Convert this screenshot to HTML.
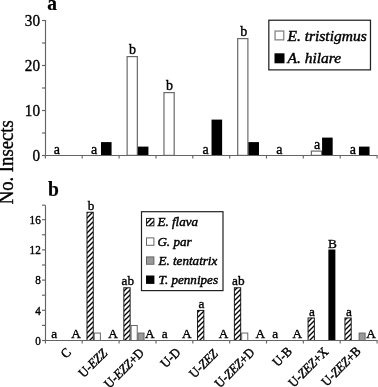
<!DOCTYPE html><html><head><meta charset="utf-8"><style>html,body{margin:0;padding:0;background:#fff;}svg{display:block;will-change:transform;}text{font-family:"Liberation Serif",serif;fill:#000;stroke:#000;stroke-width:0.35px;}text.b{stroke-width:0.2px}</style></head><body>
<svg width="378" height="387" viewBox="0 0 378 387">
<defs><pattern id="h" patternUnits="userSpaceOnUse" width="5" height="5"><rect width="5" height="5" fill="#fff"/><path d="M-1,6 L6,-1 M-1,1 L1,-1 M4,6 L6,4" stroke="#000" stroke-width="1.35"/></pattern></defs>
<text transform="translate(13.40,162.30) rotate(-90) scale(1,1.09)" text-anchor="middle" font-size="18.7">No. Insects</text>
<text transform="translate(47.20,10.00) scale(1,1.03)" font-size="19.5" class="b" font-weight="bold">a</text>
<text transform="translate(48.00,196.30) scale(1,1.03)" font-size="19.5" class="b" font-weight="bold">b</text>
<text transform="translate(56.85,153.90)" text-anchor="middle" font-size="14">a</text>
<rect x="100.98" y="142.10" width="10.60" height="13.90" fill="#000"/>
<rect x="101.98" y="143.10" width="8.60" height="11.90" fill="#000"/>
<text transform="translate(94.00,153.90)" text-anchor="middle" font-size="14">a</text>
<rect x="126.53" y="56.00" width="11.40" height="100.00" fill="#6a6a6a"/>
<rect x="127.73" y="57.20" width="9.00" height="97.60" fill="#fff"/>
<rect x="137.83" y="146.60" width="10.60" height="9.40" fill="#000"/>
<rect x="138.83" y="147.60" width="8.60" height="7.40" fill="#000"/>
<text transform="translate(132.55,53.70)" text-anchor="middle" font-size="14">b</text>
<rect x="163.38" y="92.00" width="11.40" height="64.00" fill="#6a6a6a"/>
<rect x="164.57" y="93.20" width="9.00" height="61.60" fill="#fff"/>
<text transform="translate(169.55,89.70)" text-anchor="middle" font-size="14">b</text>
<rect x="211.53" y="119.60" width="10.60" height="36.40" fill="#000"/>
<rect x="212.53" y="120.60" width="8.60" height="34.40" fill="#000"/>
<text transform="translate(205.55,153.90)" text-anchor="middle" font-size="14">a</text>
<rect x="237.08" y="38.00" width="11.40" height="118.00" fill="#6a6a6a"/>
<rect x="238.28" y="39.20" width="9.00" height="115.60" fill="#fff"/>
<rect x="248.38" y="142.10" width="10.60" height="13.90" fill="#000"/>
<rect x="249.38" y="143.10" width="8.60" height="11.90" fill="#000"/>
<text transform="translate(243.75,35.70)" text-anchor="middle" font-size="14">b</text>
<text transform="translate(279.25,153.90)" text-anchor="middle" font-size="14">a</text>
<rect x="310.77" y="150.50" width="11.40" height="5.50" fill="#6a6a6a"/>
<rect x="311.97" y="151.70" width="9.00" height="3.10" fill="#fff"/>
<rect x="322.07" y="137.60" width="10.60" height="18.40" fill="#000"/>
<rect x="323.07" y="138.60" width="8.60" height="16.40" fill="#000"/>
<text transform="translate(317.00,149.40)" text-anchor="middle" font-size="14">a</text>
<rect x="358.93" y="146.60" width="10.60" height="9.40" fill="#000"/>
<rect x="359.93" y="147.60" width="8.60" height="7.40" fill="#000"/>
<text transform="translate(352.75,153.90)" text-anchor="middle" font-size="14">a</text>
<g stroke="#646464" stroke-width="1.15" fill="none">
<path d="M45.5,20 V155.5 M45,155.5 H377.5"/>
<path d="M42,155.5 H45.5"/>
<path d="M42,133.0 H45.5"/>
<path d="M42,110.5 H45.5"/>
<path d="M42,88.0 H45.5"/>
<path d="M42,65.5 H45.5"/>
<path d="M42,43.0 H45.5"/>
<path d="M42,20.5 H45.5"/>
<path d="M45.4,155.5 V158.5"/>
<path d="M82.2,155.5 V158.5"/>
<path d="M119.1,155.5 V158.5"/>
<path d="M156.0,155.5 V158.5"/>
<path d="M192.8,155.5 V158.5"/>
<path d="M229.7,155.5 V158.5"/>
<path d="M266.5,155.5 V158.5"/>
<path d="M303.3,155.5 V158.5"/>
<path d="M340.2,155.5 V158.5"/>
<path d="M377.1,155.5 V158.5"/>
</g>
<text transform="translate(40.00,160.80) scale(1,1.07)" text-anchor="end" font-size="15.2">0</text>
<text transform="translate(40.00,115.80) scale(1,1.07)" text-anchor="end" font-size="15.2">10</text>
<text transform="translate(40.00,70.80) scale(1,1.07)" text-anchor="end" font-size="15.2">20</text>
<text transform="translate(40.00,25.80) scale(1,1.07)" text-anchor="end" font-size="15.2">30</text>
<rect x="268.20" y="19.60" width="102.90" height="50.90" fill="#222"/>
<rect x="269.45" y="20.85" width="100.40" height="48.40" fill="#fff"/>
<rect x="274.40" y="30.40" width="10.00" height="10.10" fill="#858585"/>
<rect x="275.70" y="31.70" width="7.40" height="7.50" fill="#fff"/>
<rect x="274.50" y="53.30" width="10.00" height="10.00" fill="#000"/>
<rect x="275.50" y="54.30" width="8.00" height="8.00" fill="#000"/>
<text transform="translate(287.50,40.60) scale(1,0.95)" font-size="15.5" font-style="italic" style="stroke-width:0.45px">E. tristigmus</text>
<text transform="translate(287.50,63.20) scale(1,0.95)" font-size="15.5" font-style="italic" style="stroke-width:0.45px">A. hilare</text>
<text transform="translate(54.12,338.30)" text-anchor="middle" font-size="13.3">a</text>
<text transform="translate(76.12,338.30)" text-anchor="middle" font-size="13.3">A</text>
<rect x="86.48" y="211.75" width="7.30" height="129.25" fill="#1a1a1a"/>
<rect x="87.48" y="212.75" width="5.30" height="127.25" fill="url(#h)"/>
<rect x="93.78" y="332.55" width="7.10" height="8.45" fill="#666"/>
<rect x="94.78" y="333.55" width="5.10" height="6.45" fill="#fff"/>
<text transform="translate(90.98,209.95)" text-anchor="middle" font-size="13.3">b</text>
<text transform="translate(112.98,338.30)" text-anchor="middle" font-size="13.3">A</text>
<rect x="123.33" y="287.25" width="7.30" height="53.75" fill="#1a1a1a"/>
<rect x="124.33" y="288.25" width="5.30" height="51.75" fill="url(#h)"/>
<rect x="130.62" y="325.00" width="7.10" height="16.00" fill="#666"/>
<rect x="131.62" y="326.00" width="5.10" height="14.00" fill="#fff"/>
<rect x="137.53" y="332.55" width="7.00" height="8.45" fill="#666"/>
<rect x="138.53" y="333.55" width="5.00" height="6.45" fill="#999"/>
<text transform="translate(127.83,285.45)" text-anchor="middle" font-size="13.3">ab</text>
<text transform="translate(149.83,338.30)" text-anchor="middle" font-size="13.3">A</text>
<text transform="translate(164.68,338.30)" text-anchor="middle" font-size="13.3">a</text>
<text transform="translate(186.68,338.30)" text-anchor="middle" font-size="13.3">A</text>
<rect x="197.03" y="309.90" width="7.30" height="31.10" fill="#1a1a1a"/>
<rect x="198.03" y="310.90" width="5.30" height="29.10" fill="url(#h)"/>
<text transform="translate(201.53,308.10)" text-anchor="middle" font-size="13.3">a</text>
<text transform="translate(223.53,338.30)" text-anchor="middle" font-size="13.3">A</text>
<rect x="233.88" y="287.25" width="7.30" height="53.75" fill="#1a1a1a"/>
<rect x="234.88" y="288.25" width="5.30" height="51.75" fill="url(#h)"/>
<rect x="241.18" y="332.55" width="7.10" height="8.45" fill="#666"/>
<rect x="242.18" y="333.55" width="5.10" height="6.45" fill="#fff"/>
<text transform="translate(238.38,285.45)" text-anchor="middle" font-size="13.3">ab</text>
<text transform="translate(260.38,338.30)" text-anchor="middle" font-size="13.3">A</text>
<text transform="translate(275.23,338.30)" text-anchor="middle" font-size="13.3">a</text>
<text transform="translate(297.23,338.30)" text-anchor="middle" font-size="13.3">A</text>
<rect x="307.57" y="317.45" width="7.30" height="23.55" fill="#1a1a1a"/>
<rect x="308.57" y="318.45" width="5.30" height="21.55" fill="url(#h)"/>
<rect x="328.38" y="249.50" width="7.00" height="91.50" fill="#000"/>
<rect x="329.38" y="250.50" width="5.00" height="89.50" fill="#000"/>
<text transform="translate(312.07,315.65)" text-anchor="middle" font-size="13.3">a</text>
<text transform="translate(332.38,247.70)" text-anchor="middle" font-size="13.3">B</text>
<rect x="344.43" y="317.45" width="7.30" height="23.55" fill="#1a1a1a"/>
<rect x="345.43" y="318.45" width="5.30" height="21.55" fill="url(#h)"/>
<rect x="358.62" y="332.55" width="7.00" height="8.45" fill="#666"/>
<rect x="359.62" y="333.55" width="5.00" height="6.45" fill="#999"/>
<text transform="translate(348.93,315.65)" text-anchor="middle" font-size="13.3">a</text>
<text transform="translate(370.93,338.30)" text-anchor="middle" font-size="13.3">A</text>
<g stroke="#646464" stroke-width="1.15" fill="none">
<path d="M45.5,205.2 V340.5 M45,340.5 H377.5"/>
<path d="M42,340.5 H45.5"/>
<path d="M42,325.4 H45.5"/>
<path d="M42,310.3 H45.5"/>
<path d="M42,295.2 H45.5"/>
<path d="M42,280.1 H45.5"/>
<path d="M42,265.0 H45.5"/>
<path d="M42,249.9 H45.5"/>
<path d="M42,234.8 H45.5"/>
<path d="M42,219.7 H45.5"/>
<path d="M42,205.2 H45.5"/>
<path d="M45.4,340.5 V343.5"/>
<path d="M82.2,340.5 V343.5"/>
<path d="M119.1,340.5 V343.5"/>
<path d="M156.0,340.5 V343.5"/>
<path d="M192.8,340.5 V343.5"/>
<path d="M229.7,340.5 V343.5"/>
<path d="M266.5,340.5 V343.5"/>
<path d="M303.3,340.5 V343.5"/>
<path d="M340.2,340.5 V343.5"/>
<path d="M377.1,340.5 V343.5"/>
</g>
<text transform="translate(40.80,344.70) scale(1,1.1)" text-anchor="end" font-size="11.2">0</text>
<text transform="translate(40.80,314.50) scale(1,1.1)" text-anchor="end" font-size="11.2">4</text>
<text transform="translate(40.80,284.30) scale(1,1.1)" text-anchor="end" font-size="11.2">8</text>
<text transform="translate(40.80,254.10) scale(1,1.1)" text-anchor="end" font-size="11.2">12</text>
<text transform="translate(40.80,223.90) scale(1,1.1)" text-anchor="end" font-size="11.2">16</text>
<rect x="140.90" y="211.10" width="82.70" height="80.10" fill="#222"/>
<rect x="142.10" y="212.30" width="80.30" height="77.70" fill="#fff"/>
<rect x="146.00" y="217.90" width="8.40" height="8.40" fill="#222"/>
<rect x="147.00" y="218.90" width="6.40" height="6.40" fill="url(#h)"/>
<text transform="translate(157.40,226.30)" font-size="13.1" font-style="italic" style="stroke-width:0.45px">E. flava</text>
<rect x="146.00" y="237.40" width="8.40" height="8.40" fill="#666"/>
<rect x="147.00" y="238.40" width="6.40" height="6.40" fill="#fff"/>
<text transform="translate(157.40,245.80)" font-size="13.1" font-style="italic" style="stroke-width:0.45px">G. par</text>
<rect x="146.00" y="256.40" width="8.40" height="8.40" fill="#666"/>
<rect x="147.00" y="257.40" width="6.40" height="6.40" fill="#999"/>
<text transform="translate(158.40,264.80)" font-size="13.1" font-style="italic" style="stroke-width:0.45px">E. tentatrix</text>
<rect x="146.00" y="275.50" width="8.40" height="8.40" fill="#000"/>
<rect x="147.00" y="276.50" width="6.40" height="6.40" fill="#000"/>
<text transform="translate(158.60,283.90)" font-size="13.1" font-style="italic" style="stroke-width:0.45px">T. pennipes</text>
<text transform="translate(71.83,353.30) rotate(-45) scale(1,1.08)" text-anchor="end" font-size="12.3" style="stroke-width:0.4px">C</text>
<text transform="translate(107.98,354.10) rotate(-45) scale(1,1.08)" text-anchor="end" font-size="12.3" style="stroke-width:0.4px">U-<tspan font-style="italic">EZZ</tspan></text>
<text transform="translate(144.83,353.60) rotate(-45) scale(1,1.08)" text-anchor="end" font-size="12.3" style="stroke-width:0.4px">U-<tspan font-style="italic">EZZ</tspan>+D</text>
<text transform="translate(181.18,353.10) rotate(-45) scale(1,1.08)" text-anchor="end" font-size="12.3" style="stroke-width:0.4px">U-D</text>
<text transform="translate(218.63,354.60) rotate(-45) scale(1,1.08)" text-anchor="end" font-size="12.3" style="stroke-width:0.4px">U-<tspan font-style="italic">ZEZ</tspan></text>
<text transform="translate(255.38,353.20) rotate(-45) scale(1,1.08)" text-anchor="end" font-size="12.3" style="stroke-width:0.4px">U-<tspan font-style="italic">ZEZ</tspan>+D</text>
<text transform="translate(292.73,352.30) rotate(-45) scale(1,1.08)" text-anchor="end" font-size="12.3" style="stroke-width:0.4px">U-B</text>
<text transform="translate(329.07,352.60) rotate(-45) scale(1,1.08)" text-anchor="end" font-size="12.3" style="stroke-width:0.4px">U-<tspan font-style="italic">ZEZ</tspan>+X</text>
<text transform="translate(361.62,352.00) rotate(-45) scale(1,1.08)" text-anchor="end" font-size="12.3" style="stroke-width:0.4px">U-<tspan font-style="italic">ZEZ</tspan>+B</text>
</svg></body></html>
